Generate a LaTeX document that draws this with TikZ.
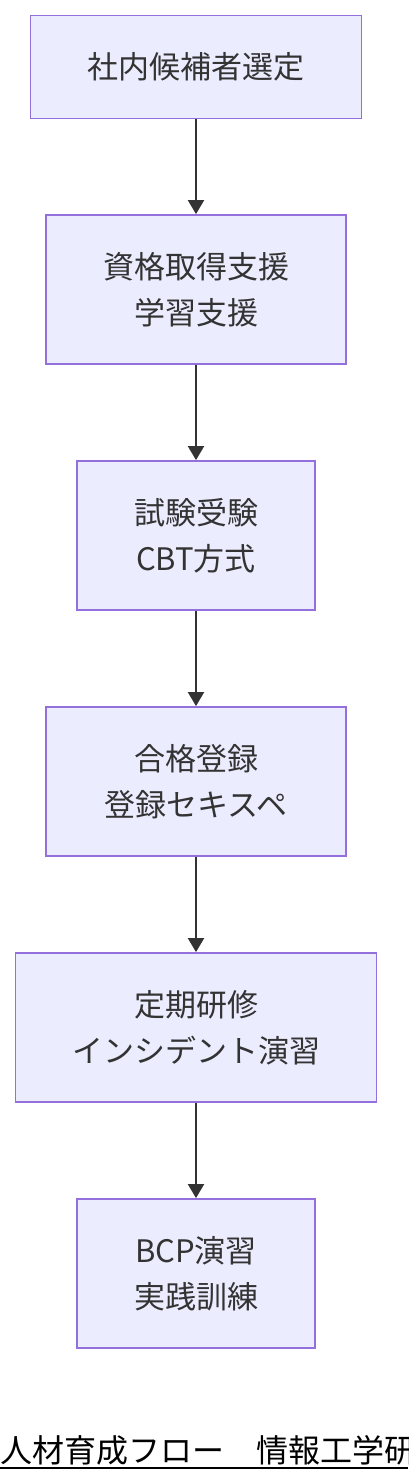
\documentclass[tikz,border=0pt]{standalone}
\usepackage{fontspec}
\setmainfont{Noto Sans CJK JP}
\usetikzlibrary{arrows.meta}
\definecolor{boxfill}{HTML}{ECECFF}
\definecolor{boxline}{HTML}{9370DB}
\definecolor{inkgray}{HTML}{333333}
\tikzset{
  stage/.style={draw=boxline, fill=boxfill, line width=1.8pt, align=center, text=inkgray,
    font=\fontsize{31pt}{46pt}\selectfont, inner sep=0pt, minimum height=149pt},
  flow/.style={draw=inkgray, line width=2pt, -{Triangle[length=14pt,width=16pt]}}
}
\begin{document}
\begin{tikzpicture}[x=1pt,y=-1pt]
            \useasboundingbox (0,0) rectangle (408,1484);
            % boxes
            \node [stage, minimum width=331pt, minimum height=103pt] (select) at (196,67) {社内候補者選定};
            \node [stage, minimum width=300pt] (support) at (196,289.5) {資格取得支援\\学習支援};
            \node [stage, minimum width=238pt] (exam) at (196,535.5) {試験受験\\CBT方式};
            \node [stage, minimum width=300pt] (regist) at (196,781.5) {合格登録\\登録セキスペ};
            \node [stage, minimum width=361pt] (train) at (196,1027.5) {定期研修\\インシデント演習};
            \node [stage, minimum width=238pt] (bcp) at (196,1273.5) {BCP演習\\実践訓練};
            % arrows
            \draw [flow] (select) -- (support);
            \draw [flow] (support) -- (exam);
            \draw [flow] (exam) -- (regist);
            \draw [flow] (regist) -- (train);
            \draw [flow] (train) -- (bcp);
            % title
            \node [anchor=base west, inner sep=0pt, font=\fontsize{32pt}{32pt}\selectfont] (title) at (0,1462) {人材育成フロー　情報工学研};
            \coordinate (lineL) at (0,1468);
            \coordinate (lineR) at (408,1468);
            \draw [line width=2pt, black] (lineL) -- (lineR);
\end{tikzpicture}
\end{document}
